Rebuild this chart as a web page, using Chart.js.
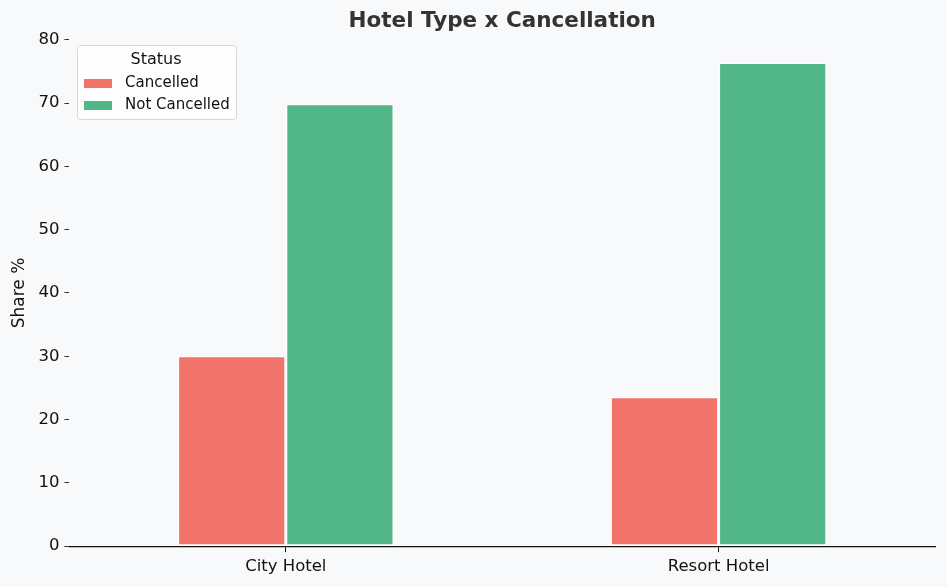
<!DOCTYPE html>
<html lang="en">
<head>
    <meta charset="UTF-8">
    <script src="https://cdn.jsdelivr.net/npm/chart.js"></script>
    <title>Hotel Type x Cancellation</title>
    <style>
        html, body { margin: 0; padding: 0; background: #f8f9fb; }
        #wrap { width: 947px; height: 587px; }
    </style>
</head>
<body>
    <div id="wrap"><canvas id="hotelChart"></canvas></div>

    <script>
        // data (share in %)
        const hotelTypes = ['City Hotel', 'Resort Hotel'];
        const cancelled = [30.1, 23.6];
        const notCancelled = [69.9, 76.4];
        const yTicks = [0, 10, 20, 30, 40, 50, 60, 70, 80];

        const FONT = "'DejaVu Sans', sans-serif";

        // legend box drawn inside the plot, top-left
        const insideLegend = {
            id: 'insideLegend',
            afterDraw(chart) {
                const ctx = chart.ctx;
                const x = 77, y = 45;
                const w = 159, h = 74;
                ctx.save();
                ctx.fillStyle = 'rgba(255,255,255,0.8)';
                ctx.strokeStyle = '#d6d6d6';
                ctx.lineWidth = 1;
                ctx.beginPath();
                ctx.roundRect(x + 0.5, y + 0.5, w, h, 3);
                ctx.fill();
                ctx.stroke();
                ctx.fillStyle = '#111';
                ctx.textBaseline = 'middle';
                ctx.font = '16px ' + FONT;
                ctx.textAlign = 'center';
                ctx.fillText('Status', x + 79, y + 15);
                ctx.textAlign = 'left';
                ctx.font = '15px ' + FONT;
                chart.data.datasets.forEach((ds, i) => {
                    const ry = y + 38 + i * 22;
                    ctx.fillStyle = ds.backgroundColor;
                    ctx.fillRect(x + 7, ry - 4, 28, 9);
                    ctx.fillStyle = '#111';
                    ctx.fillText(ds.label, x + 48, ry);
                });
                ctx.restore();
            }
        };

        const ctx = document.getElementById('hotelChart').getContext('2d');
        new Chart(ctx, {
            type: 'bar',
            data: {
                labels: hotelTypes,
                datasets: [{
                    label: 'Cancelled',
                    data: cancelled,
                    backgroundColor: '#f0746a',
                    borderColor: '#ffffff',
                    borderWidth: 1.5,
                    borderSkipped: false
                }, {
                    label: 'Not Cancelled',
                    data: notCancelled,
                    backgroundColor: '#52b788',
                    borderColor: '#ffffff',
                    borderWidth: 1.5,
                    borderSkipped: false
                }]
            },
            options: {
                responsive: true,
                maintainAspectRatio: false,
                animation: false,
                layout: { padding: { left: 9, right: 12, top: 9, bottom: 5 } },
                datasets: { bar: { categoryPercentage: 0.5, barPercentage: 1.0 } },
                plugins: {
                    legend: { display: false },
                    tooltip: { enabled: false },
                    title: {
                        display: true,
                        text: 'Hotel Type x Cancellation',
                        fullSize: false,
                        color: '#333333',
                        font: { family: FONT, size: 21.5, weight: 'bold' },
                        padding: { top: 0, bottom: 5 }
                    }
                },
                scales: {
                    x: {
                        grid: { offset: false, drawOnChartArea: false, drawTicks: true, tickLength: 6, color: '#111' },
                        border: { display: true, color: '#111', width: 1.2 },
                        ticks: { color: '#111', font: { family: FONT, size: 16.5 }, padding: 5 }
                    },
                    y: {
                        min: 0,
                        max: 80,
                        afterBuildTicks(axis) { axis.ticks = yTicks.map(v => ({ value: v })); },
                        grid: { drawOnChartArea: false, drawTicks: true, tickLength: 5, color: '#333' },
                        border: { display: false },
                        ticks: { color: '#111', font: { family: FONT, size: 16.5 }, padding: 5 },
                        title: {
                            display: true,
                            text: 'Share %',
                            color: '#111',
                            font: { family: FONT, size: 17 },
                            padding: { top: 0, bottom: 4 }
                        }
                    }
                }
            },
            plugins: [insideLegend]
        });
    </script>
</body>
</html>
